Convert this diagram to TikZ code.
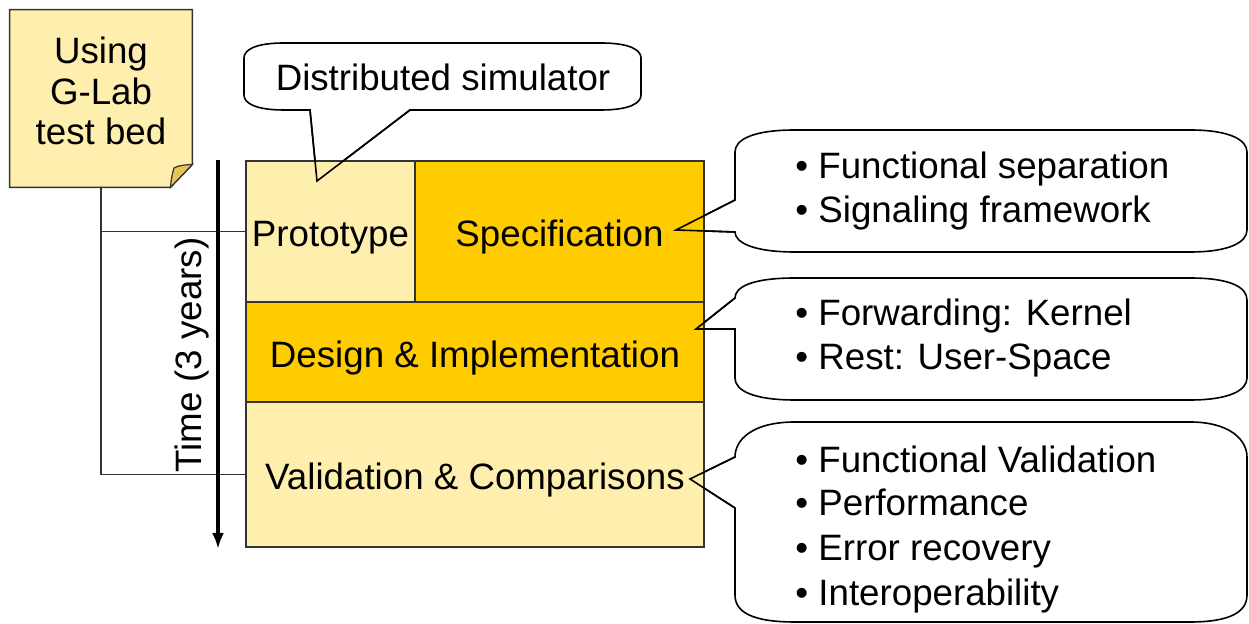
\documentclass[tikz,border=0pt]{standalone}
\usepackage{fontspec}
\setmainfont{Liberation Sans}
\usetikzlibrary{arrows.meta}
\definecolor{gold}{HTML}{FFCC00}
\definecolor{pale}{HTML}{FFEFAF}
\definecolor{flapcol}{HTML}{E8C455}
\definecolor{edgecol}{HTML}{333333}
\begin{document}
\begin{tikzpicture}[x=0.5pt,y=-0.5pt,
  txt/.style={font=\fontsize{18.35}{22}\selectfont, inner sep=0pt},
  stage/.style={draw=edgecol, line width=1pt, inner sep=0pt, font=\fontsize{18.35}{22}\selectfont, anchor=north west, text height=15.2pt, text depth=0pt},
  darkstage/.style={stage, fill=gold},
  palestage/.style={stage, fill=pale},
  conn/.style={draw=edgecol, line width=0.75pt},
  bubble/.style={draw=black, line width=0.8pt, fill=white, line join=miter},
  bubbleline/.style={draw=black, line width=0.8pt},
  timearrow/.style={line width=1.6pt, -{Latex[length=8pt,width=6pt]}}]
\useasboundingbox (0,0) rectangle (1249,624);

% callout shapes (behind the stages)
\draw[bubble] (244,58) .. controls (244,50) and (255,43) .. (284,43) -- (601,43) .. controls (630,43) and (641,50) .. (641,58) -- (641,95) .. controls (641,103) and (630,110) .. (601,110) -- (410,110) -- (317,181) -- (310,110) -- (284,110) .. controls (255,110) and (244,103) .. (244,95) -- cycle;
\draw[bubble] (735,200) -- (735,152) .. controls (735,140) and (752,130) .. (795,130) -- (1190,130) .. controls (1230,130) and (1247,140) .. (1247,152) -- (1247,230) .. controls (1247,242) and (1230,252) .. (1190,252) -- (795,252) .. controls (752,252) and (735,242) .. (735,232) -- (676,230) -- cycle;
\draw[bubble] (735,298) .. controls (735,287) and (752,278) .. (795,278) -- (1190,278) .. controls (1230,278) and (1247,287) .. (1247,300) -- (1247,378) .. controls (1247,390) and (1230,400) .. (1190,400) -- (795,400) .. controls (752,400) and (735,390) .. (735,378) -- (735,329) -- (696,329) -- cycle;
\draw[bubble] (735,457) .. controls (735,440) and (752,422) .. (795,422) -- (1190,422) .. controls (1230,422) and (1247,440) .. (1247,457) -- (1247,595) .. controls (1247,612) and (1230,622) .. (1190,622) -- (795,622) .. controls (752,622) and (735,612) .. (735,595) -- (735,508) -- (690,479) -- cycle;

% stages
\node[palestage, minimum width=84.5pt, minimum height=70.5pt] (proto) at (245,160) {Prototype};
\node[darkstage, minimum width=144.5pt, minimum height=70.5pt] (spec) at (414,160) {Specification};
\node[darkstage, minimum width=229pt, minimum height=50pt] (design) at (245,301) {Design \& Implementation};
\node[palestage, minimum width=229pt, minimum height=72.5pt] (val) at (245,401) {Validation \& Comparisons};

% callout tails over the stages
\draw[bubbleline] (310,110) -- (317,181) -- (410,110);
\draw[bubbleline] (735,200) -- (676,230) -- (735,232);
\draw[bubbleline] (735,298) -- (696,329) -- (735,329);
\draw[bubbleline] (735,457) -- (690,479) -- (735,508);

% sticky note
\node[minimum width=91pt, minimum height=88.5pt, inner sep=0pt] (note) at (101,98.5) {};
\draw[draw=edgecol, line width=0.8pt, fill=pale] (note.north west) -- (note.north east) -- ([yshift=11.5pt]note.south east) -- ([xshift=-11pt]note.south east) -- (note.south west) -- cycle;
\draw[draw=edgecol, line width=0.6pt, fill=flapcol] ([yshift=11.5pt]note.south east) .. controls (186,165) and (179,165) .. (174,168) .. controls (172,174) and (171,181) .. ([xshift=-11pt]note.south east) -- cycle;
\node[txt, align=center, font=\fontsize{18.35}{20.3}\selectfont] (notetext) at (101,91) {Using\\G-Lab\\test bed};

% connectors
\draw[conn] (note.south) |- (val.west);
\draw[conn] (note.south |- proto.west) -- (proto.west);

% time arrow
\coordinate (tstart) at (218,160);
\coordinate (tend) at (218,549);
\draw[timearrow] (tstart) -- (tend);
\node[txt, rotate=90] (timelbl) at (192,355) {Time (3 years)};

% callout texts
\node[txt] (simtext) at (443,77) {Distributed simulator};
\node[txt, anchor=base west] (c1a) at (795,179) {• Functional separation};
\node[txt, anchor=base west] (c1b) at (795,223) {• Signaling framework};
\node[txt, anchor=base west] (c2a) at (795,326) {• Forwarding: Kernel};
\node[txt, anchor=base west] (c2b) at (795,370) {• Rest: User-Space};
\node[txt, anchor=base west] (c3a) at (795,473) {• Functional Validation};
\node[txt, anchor=base west] (c3b) at (795,516) {• Performance};
\node[txt, anchor=base west] (c3c) at (795,561) {• Error recovery};
\node[txt, anchor=base west] (c3d) at (795,606) {• Interoperability};
\end{tikzpicture}
\end{document}
